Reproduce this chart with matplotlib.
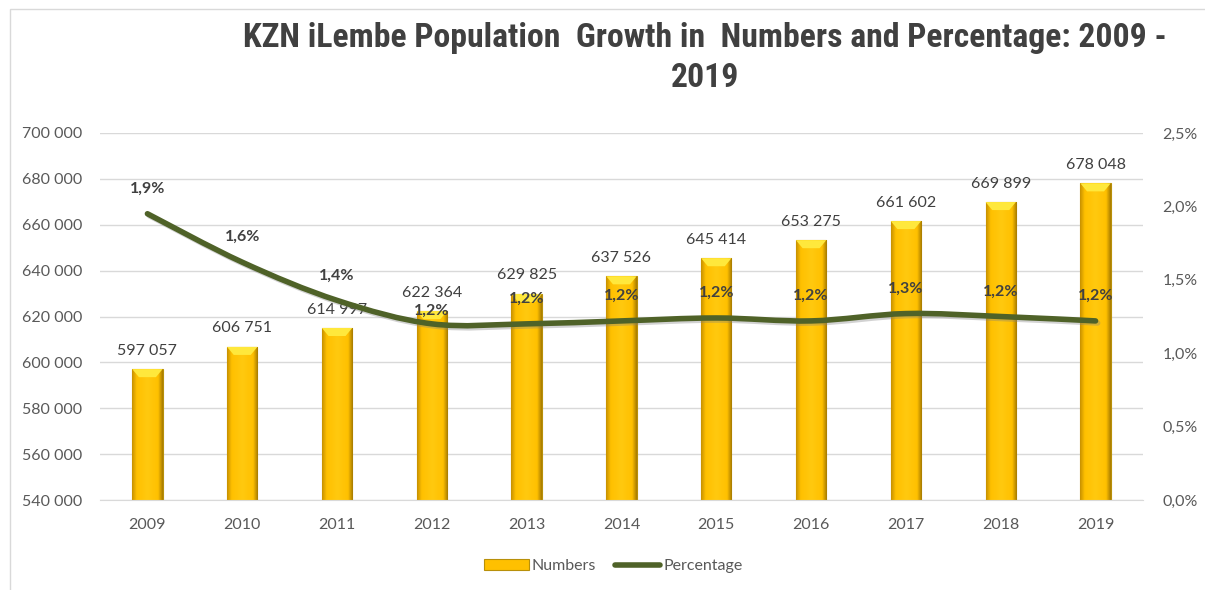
import numpy as np
import matplotlib.pyplot as plt
from matplotlib.path import Path
from matplotlib.patches import PathPatch, Rectangle, Polygon
from matplotlib.lines import Line2D
from matplotlib.colors import LinearSegmentedColormap
import matplotlib.patheffects as pe

years = ['2009', '2010', '2011', '2012', '2013', '2014', '2015', '2016', '2017', '2018', '2019']
numbers = [597057, 606751, 614997, 622364, 629825, 637526, 645414, 653275, 661602, 669899, 678048]
growth = [1.95, 1.62, 1.36, 1.20, 1.20, 1.22, 1.24, 1.22, 1.27, 1.25, 1.22]

num_ticks = [540000, 560000, 580000, 600000, 620000, 640000, 660000, 680000, 700000]
pct_ticks = [0.0, 0.5, 1.0, 1.5, 2.0, 2.5]

GOLD = '#FFC000'
OLIVE = '#4F6228'
TXT = '#595959'
GRID = '#D9D9D9'
NUM_FONT = ['Lato', 'DejaVu Sans']
TITLE_FONT = ['Roboto Condensed', 'Liberation Sans Narrow', 'Liberation Sans', 'DejaVu Sans']
FS = 11.5


def fmt_num(v):
    return f'{v:,}'.replace(',', ' ')


def fmt_pct(v):
    return f'{v:.1f}%'.replace('.', ',')


fig = plt.figure(figsize=(12.05, 5.9), dpi=100)
ax = fig.add_axes([0.083, 0.1525, 0.8655, 0.6221])
ax2 = ax.twinx()

x = np.arange(len(years))
w = 0.32

# bars with a horizontal shading and a lighter bevel on top
bars = ax.bar(x, numbers, width=w, color=GOLD, edgecolor='#B8900A', linewidth=0.8, zorder=2)
shade = LinearSegmentedColormap.from_list('shade', [(0, '#C89200'), (0.15, '#FFC000'),
                                                    (0.5, '#FFC90F'), (0.85, '#FFC000'),
                                                    (1, '#A87C00')])
grad = np.linspace(0, 1, 64).reshape(1, -1)
for xi, v, b in zip(x, numbers, bars):
    im = ax.imshow(grad, cmap=shade, aspect='auto', extent=[xi - w / 2, xi + w / 2, num_ticks[0], v],
                   zorder=2.1)
    im.set_clip_path(b)
    dy = 3500
    ax.add_patch(Polygon([[xi - w / 2, v], [xi + w / 2, v], [xi + w / 2 - w * 0.22, v - dy],
                          [xi - w / 2 + w * 0.22, v - dy]], closed=True, facecolor='#FFE83C',
                         edgecolor='none', zorder=2.2))
    ax.text(xi, v + 5000, fmt_num(v), ha='center', va='bottom', fontsize=FS,
            color='#404040', family=NUM_FONT, zorder=3)

ax.set_xlim(-0.5, len(years) - 0.5)
ax.set_ylim(num_ticks[0], num_ticks[-1])
ax.set_yticks(num_ticks)
ax.set_yticklabels([fmt_num(t) for t in num_ticks], family=NUM_FONT)
ax.set_xticks(x)
ax.set_xticklabels(years, family=NUM_FONT)
ax.tick_params(length=0, labelsize=FS, colors=TXT, pad=13)
ax.tick_params(axis='y', pad=13)
ax.grid(axis='y', color=GRID, linewidth=1, zorder=0)
ax.set_axisbelow(True)
for s in ['top', 'left', 'right']:
    ax.spines[s].set_visible(False)
    ax2.spines[s].set_visible(False)
ax.spines['bottom'].set_color(GRID)
ax2.spines['bottom'].set_visible(False)

# smoothed growth line (Catmull-Rom segments as cubic Bezier curves)
pts = np.column_stack([x, growth]).astype(float)
verts = [pts[0]]
codes = [Path.MOVETO]
for i in range(len(pts) - 1):
    p0 = pts[max(i - 1, 0)]
    p1 = pts[i]
    p2 = pts[i + 1]
    p3 = pts[min(i + 2, len(pts) - 1)]
    verts += [p1 + (p2 - p0) / 6, p2 - (p3 - p1) / 6, p2]
    codes += [Path.CURVE4] * 3
line = PathPatch(Path(verts, codes), facecolor='none', edgecolor=OLIVE, linewidth=4,
                 capstyle='round', joinstyle='round', zorder=4,
                 path_effects=[pe.SimpleLineShadow(offset=(1.5, -1.5), shadow_color='#808080', alpha=0.35),
                               pe.Normal()])
ax2.add_patch(line)

# label offsets in points; the 2012 label sits lower, down on the bar top
label_dy = [13, 13, 13, 4, 13, 13, 13, 13, 13, 13, 13]
for xi, g, d in zip(x, growth, label_dy):
    ax2.annotate(fmt_pct(g), (xi, g), xytext=(0, d), textcoords='offset points', ha='center',
                 va='bottom', fontsize=FS, fontweight='bold', color='#404040', family=NUM_FONT,
                 zorder=5)

ax2.set_ylim(pct_ticks[0], pct_ticks[-1])
ax2.set_yticks(pct_ticks)
ax2.set_yticklabels([fmt_pct(t) for t in pct_ticks], family=NUM_FONT)
ax2.tick_params(length=0, labelsize=FS, colors=TXT, pad=14)

fig.text(0.585, 0.963, 'KZN iLembe Population  Growth in  Numbers and Percentage: 2009 -\n2019',
         ha='center', va='top', multialignment='center', fontsize=24.3, fontweight='bold',
         color='#404040', family=TITLE_FONT, linespacing=1.32)

handles = [Rectangle((0, 0), 1, 1, facecolor=GOLD, edgecolor='#B8900A', linewidth=0.8),
           Line2D([], [], color=OLIVE, linewidth=4, solid_capstyle='round')]
leg = fig.legend(handles, ['Numbers', 'Percentage'], loc='center', bbox_to_anchor=(0.509, 0.04),
                 ncol=2, frameon=False, handlelength=2.8, handletextpad=0.2,
                 columnspacing=1.2, prop={'family': NUM_FONT, 'size': FS})
for t in leg.get_texts():
    t.set_color(TXT)

fig.patches.append(Rectangle((10 / 1205, -0.01), 1.0, 1.01 - 9 / 590, transform=fig.transFigure,
                             facecolor='none', edgecolor=GRID, linewidth=1))

fig.savefig('out.png', dpi=100)
